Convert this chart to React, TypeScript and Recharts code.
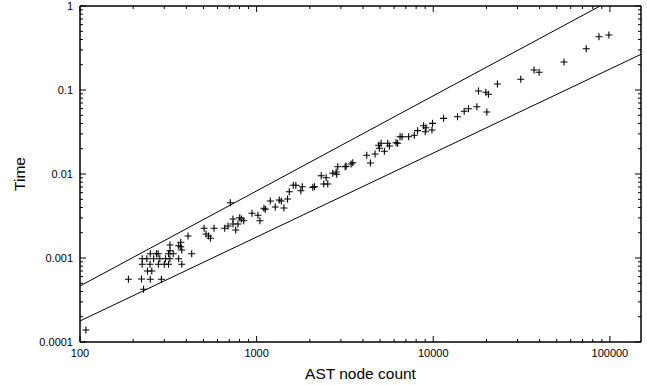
import React from 'react';
import { ScatterChart, Scatter, XAxis, YAxis, ReferenceArea } from 'recharts';

const FONT = '"Liberation Sans", Arial, Helvetica, sans-serif';

// AST node count (x) and measured time (y) for each program
const astNodeCounts = [
  108, 188, 223, 250, 289, 229, 241, 255, 225, 249,
  278, 300, 317, 377, 225, 239, 261, 283, 305, 323,
  362, 250, 271, 277, 317, 337, 323, 362, 372, 323,
  377, 372, 409, 429, 504, 574, 517, 534, 548, 660,
  689, 710, 735, 735, 761, 784, 802, 820, 845, 941,
  1017, 1044, 1100, 1120, 1195, 1275, 1343, 1379, 1427, 1497,
  1530, 1612, 1667, 1780, 1813, 2080, 2127, 2321, 2476, 2400,
  2528, 2698, 2820, 2842, 2879, 3170, 3212, 3428, 3501, 4201,
  4407, 4683, 4909, 5064, 4954, 5287, 5519, 5643, 6156, 6285,
  6486, 6657, 7254, 7810, 8152, 8815, 9096, 9013, 9833, 9909,
  11435, 13720, 14966, 15830, 17660, 20110, 18030, 19850, 20530, 23080,
  31300, 37210, 39720, 54970, 73460, 86700, 98720,
];

const times = [
  0.000139, 0.000558, 0.000562, 0.000558, 0.000558, 0.000424, 0.0007, 0.0007, 0.000841, 0.000841,
  0.000841, 0.000841, 0.000841, 0.000841, 0.000981, 0.000981, 0.000981, 0.000981, 0.000981, 0.000981,
  0.000981, 0.001125, 0.001125, 0.001125, 0.001125, 0.001125, 0.001428, 0.0014, 0.001363, 0.001222,
  0.001245, 0.001538, 0.001827, 0.001125, 0.002258, 0.002258, 0.00193, 0.001827, 0.001716, 0.002258,
  0.002404, 0.00455, 0.002912, 0.00254, 0.002154, 0.00254, 0.003018, 0.002912, 0.00278, 0.003404,
  0.003224, 0.00278, 0.003906, 0.0038, 0.00477, 0.004048, 0.0049, 0.00477, 0.003937, 0.00504,
  0.00616, 0.00734, 0.00734, 0.00633, 0.00706, 0.00694, 0.00706, 0.00954, 0.00904, 0.0076,
  0.0076, 0.0102, 0.01056, 0.00992, 0.01222, 0.01222, 0.01235, 0.01315, 0.01363, 0.0167,
  0.01352, 0.0173, 0.02197, 0.0232, 0.02023, 0.01863, 0.0232, 0.02154, 0.0236, 0.0232,
  0.0278, 0.0278, 0.0278, 0.0289, 0.0328, 0.0376, 0.0356, 0.0319, 0.0334, 0.0401,
  0.046, 0.0481, 0.0558, 0.0599, 0.0633, 0.0547, 0.0973, 0.0939, 0.0889, 0.1179,
  0.1341, 0.173, 0.1624, 0.2154, 0.31, 0.431, 0.4518,
];

// Bounding lines (endpoints)
const upperBoundN = [100, 88000];
const upperBoundT = [0.000464, 1];
const lowerBoundN = [100, 150000];
const lowerBoundT = [0.000178, 0.266];

// Axes
const xDomain = [100, 150000];
const yDomain = [0.0001, 1];
const xMajorTicks = [100, 1000, 10000, 100000];
const xTickLabels = ['100', '1000', '10000', '100000'];
const yMajorTicks = [0.0001, 0.001, 0.01, 0.1, 1];
const yTickLabels = ['0.0001', '0.001', '0.01', '0.1', '1'];
const minorMultipliers = [2, 3, 4, 5, 6, 7, 8, 9];

const xMinorTicks = xMajorTicks.slice(0, 3).flatMap((d) => minorMultipliers.map((m) => d * m));
const yMinorTicks = yMajorTicks.slice(0, 4).flatMap((d) => minorMultipliers.map((m) => d * m));
const xTicks = [...xMajorTicks, ...xMinorTicks];
const yTicks = [...yMajorTicks, ...yMinorTicks];

const points = astNodeCounts.map((n, i) => ({ n, t: times[i] }));
const upperLine = upperBoundN.map((n, i) => ({ n, t: upperBoundT[i] }));
const lowerLine = lowerBoundN.map((n, i) => ({ n, t: lowerBoundT[i] }));

const MAJOR = 6;
const MINOR = 3;

const BottomTick = (props: any) => {
  const x = Number(props.x);
  const y = Number(props.y);
  const i = xMajorTicks.indexOf(props.payload.value);
  const len = i >= 0 ? MAJOR : MINOR;
  return (
    <g>
      <path d={`M${x},${y}V${y - len}`} stroke="#000" strokeWidth={1} fill="none" />
      {i >= 0 && (
        <text x={x} y={y + 15} textAnchor="middle" fontSize={11} fontFamily={FONT} fill="#000">
          {xTickLabels[i]}
        </text>
      )}
    </g>
  );
};

const TopTick = (props: any) => {
  const x = Number(props.x);
  const y = Number(props.y);
  const len = xMajorTicks.indexOf(props.payload.value) >= 0 ? MAJOR : MINOR;
  return <path d={`M${x},${y}V${y + len}`} stroke="#000" strokeWidth={1} fill="none" />;
};

const LeftTick = (props: any) => {
  const x = Number(props.x);
  const y = Number(props.y);
  const i = yMajorTicks.indexOf(props.payload.value);
  const len = i >= 0 ? MAJOR : MINOR;
  return (
    <g>
      <path d={`M${x},${y}H${x + len}`} stroke="#000" strokeWidth={1} fill="none" />
      {i >= 0 && (
        <text x={x - 7} y={y + 4} textAnchor="end" fontSize={11} fontFamily={FONT} fill="#000">
          {yTickLabels[i]}
        </text>
      )}
    </g>
  );
};

const RightTick = (props: any) => {
  const x = Number(props.x);
  const y = Number(props.y);
  const len = yMajorTicks.indexOf(props.payload.value) >= 0 ? MAJOR : MINOR;
  return <path d={`M${x},${y}H${x - len}`} stroke="#000" strokeWidth={1} fill="none" />;
};

const Cross = (props: any) => {
  const { cx, cy } = props;
  if (cx == null || cy == null) return <g />;
  return (
    <path
      d={`M${cx - 3.5},${cy}h7M${cx},${cy - 3.5}v7`}
      stroke="#000"
      strokeWidth={1.1}
      fill="none"
    />
  );
};

const NoShape = () => <g />;

export default function App() {
  return (
    <div style={{ position: 'absolute', left: 0, top: 0, width: 647, height: 385, background: '#fff' }}>
      <ScatterChart width={647} height={385} margin={{ top: 5, right: 5, bottom: 0, left: 0 }}>
        <XAxis
          xAxisId="b"
          dataKey="n"
          type="number"
          scale="log"
          domain={xDomain}
          allowDataOverflow
          ticks={xTicks}
          interval={0}
          tick={<BottomTick />}
          tickSize={0}
          tickMargin={0}
          tickLine={false}
          axisLine={{ stroke: '#000', strokeWidth: 1 }}
          height={43}
          orientation="bottom"
          label={{
            value: 'AST node count',
            position: 'insideBottom',
            offset: 6,
            style: { fontSize: 15.5, fontFamily: FONT, fill: '#000' },
          }}
        />
        <XAxis
          xAxisId="t"
          dataKey="n"
          type="number"
          scale="log"
          domain={xDomain}
          allowDataOverflow
          ticks={xTicks}
          interval={0}
          tick={<TopTick />}
          tickSize={0}
          tickMargin={0}
          tickLine={false}
          axisLine={{ stroke: '#000', strokeWidth: 1 }}
          height={1}
          orientation="top"
        />
        <YAxis
          yAxisId="l"
          dataKey="t"
          type="number"
          scale="log"
          domain={yDomain}
          allowDataOverflow
          ticks={yTicks}
          interval={0}
          tick={<LeftTick />}
          tickSize={0}
          tickMargin={0}
          tickLine={false}
          axisLine={{ stroke: '#000', strokeWidth: 1 }}
          width={80}
          orientation="left"
          label={{
            value: 'Time',
            angle: -90,
            position: 'insideLeft',
            offset: 19,
            style: { fontSize: 15.5, fontFamily: FONT, fill: '#000', textAnchor: 'middle' },
          }}
        />
        <YAxis
          yAxisId="r"
          dataKey="t"
          type="number"
          scale="log"
          domain={yDomain}
          allowDataOverflow
          ticks={yTicks}
          interval={0}
          tick={<RightTick />}
          tickSize={0}
          tickMargin={0}
          tickLine={false}
          axisLine={{ stroke: '#000', strokeWidth: 1 }}
          width={1}
          orientation="right"
        />
        <ReferenceArea
          xAxisId="b"
          yAxisId="l"
          x1={xDomain[0]}
          x2={xDomain[1]}
          y1={yDomain[0]}
          y2={yDomain[1]}
          stroke="#000"
          strokeWidth={1}
          fill="none"
          fillOpacity={0}
          ifOverflow="visible"
        />
        {/* invisible series that binds the mirror (top / right) frame axes */}
        <Scatter
          xAxisId="t"
          yAxisId="r"
          data={points}
          shape={<NoShape />}
          isAnimationActive={false}
        />
        <Scatter
          xAxisId="b"
          yAxisId="l"
          data={upperLine}
          line={{ stroke: '#000', strokeWidth: 1 }}
          lineType="joint"
          shape={<NoShape />}
          isAnimationActive={false}
        />
        <Scatter
          xAxisId="b"
          yAxisId="l"
          data={lowerLine}
          line={{ stroke: '#000', strokeWidth: 1 }}
          lineType="joint"
          shape={<NoShape />}
          isAnimationActive={false}
        />
        <Scatter
          xAxisId="b"
          yAxisId="l"
          data={points}
          shape={<Cross />}
          isAnimationActive={false}
        />
      </ScatterChart>
    </div>
  );
}
